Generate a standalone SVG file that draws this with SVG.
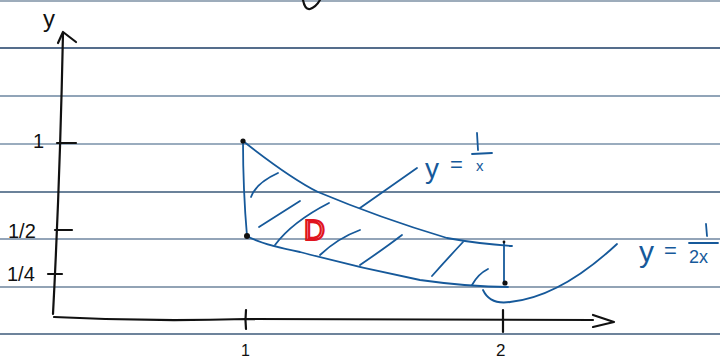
<svg xmlns="http://www.w3.org/2000/svg" width="720" height="360" viewBox="0 0 720 360">
<style>
.rule{stroke-width:1.6;fill:none}
.ink{stroke:#111;stroke-width:2.2;fill:none;stroke-linecap:round;stroke-linejoin:round}
.blue{stroke:#16599a;stroke-width:1.8;fill:none;stroke-linecap:round;stroke-linejoin:round}
.hand{font-family:"Liberation Sans",sans-serif;fill:#111}
.bt{font-family:"Liberation Sans",sans-serif;fill:#16599a}
</style>
<rect width="720" height="360" fill="#fff"/>
<g id="paper">
<line class="rule" x1="0" y1="1" x2="720" y2="1" stroke="#7d90a4"/>
<line class="rule" x1="0" y1="48" x2="720" y2="48" stroke="#1c3d66"/>
<line class="rule" x1="0" y1="96" x2="720" y2="96" stroke="#6c86a0"/>
<line class="rule" x1="0" y1="144" x2="720" y2="144" stroke="#7890a8"/>
<line class="rule" x1="0" y1="192" x2="720" y2="192" stroke="#3a5878"/>
<line class="rule" x1="0" y1="239" x2="720" y2="239" stroke="#6f86a0"/>
<line class="rule" x1="0" y1="287" x2="720" y2="287" stroke="#6e849c"/>
<line class="rule" x1="0" y1="334" x2="720" y2="334" stroke="#3c5a7a"/>
</g>
<g id="fragment">
<path class="ink" d="M303,0 Q305,10 310,9 Q316,7 320,0"/>
</g>
<g id="axes">
<path class="ink" d="M53,314 Q60,180 63,33"/>
<path class="ink" d="M58,43 L63,32 L76,42"/>
<path class="ink" d="M54,317 Q150,322 246,319 L593,320"/>
<path class="ink" d="M593,315 L614,322 L593,327"/>
<path class="ink" d="M57,143 L76,143"/>
<path class="ink" d="M55,230 L72,230"/>
<path class="ink" d="M48,274 L62,274"/>
<path class="ink" d="M246,310 Q245,320 246,329"/>
<path class="ink" d="M503,310 L503,332"/>
<text class="hand" x="43" y="27" font-size="24">y</text>
<text class="hand" x="33" y="148" font-size="20">1</text>
<text class="hand" x="8" y="238" font-size="20">1/2</text>
<text class="hand" x="7" y="281" font-size="20">1/4</text>
<text class="hand" x="241" y="356" font-size="16">1</text>
<text class="hand" x="496" y="356" font-size="17">2</text>
</g>
<g id="region">
<path class="blue" d="M243,141 Q243,190 247,236"/>
<path class="blue" d="M243,141 Q290,178 318,192 Q380,218 447,238 Q480,244 512,246"/>
<path class="blue" d="M247,236 Q260,244 300,252 Q360,268 420,280 Q470,287 508,287"/>
<path class="blue" d="M504,242 L504,283"/>
<circle cx="243" cy="141" r="2.6" fill="#111"/>
<circle cx="247" cy="236" r="3" fill="#111"/>
<circle cx="505" cy="283" r="2.6" fill="#111"/>
<circle cx="504" cy="242" r="1.4" fill="#111"/>
</g>
<g id="hatching">
<path class="blue" d="M251,197 Q256,183 278,173"/>
<path class="blue" stroke-width="1.2" d="M259,227 L300,201"/>
<path class="blue" d="M275,245 Q292,222 329,203"/>
<path class="blue" d="M320,255 Q338,238 360,230"/>
<path class="blue" d="M360,265 Q385,248 402,235"/>
<path class="blue" d="M432,276 Q448,258 463,242"/>
<path class="blue" d="M472,285 Q478,274 488,269"/>
</g>
<g id="label-D">
<text x="304" y="240" font-family="Liberation Sans,sans-serif" font-size="29" fill="none" stroke="#e0141e" stroke-width="2.2">D</text>
</g>
<g id="connectors">
<path class="blue" d="M360,208 L417,168"/>
<path class="blue" d="M483,290 Q490,305 510,302 Q560,297 617,244"/>
</g>
<g id="label-1x">
<text class="bt" x="425" y="178" font-size="28">y</text>
<text class="bt" x="450" y="172" font-size="22">=</text>
<path class="blue" d="M477,133 L478,150"/>
<path class="blue" d="M472,154 L492,153"/>
<text class="bt" x="476" y="171" font-size="15">x</text>
</g>
<g id="label-12x">
<text class="bt" x="639" y="262" font-size="30">y</text>
<text class="bt" x="664" y="258" font-size="22">=</text>
<path class="blue" d="M706,224 L707,236"/>
<path class="blue" d="M689,243 L718,243"/>
<text class="bt" x="689" y="263" font-size="18">2x</text>
</g>
</svg>
